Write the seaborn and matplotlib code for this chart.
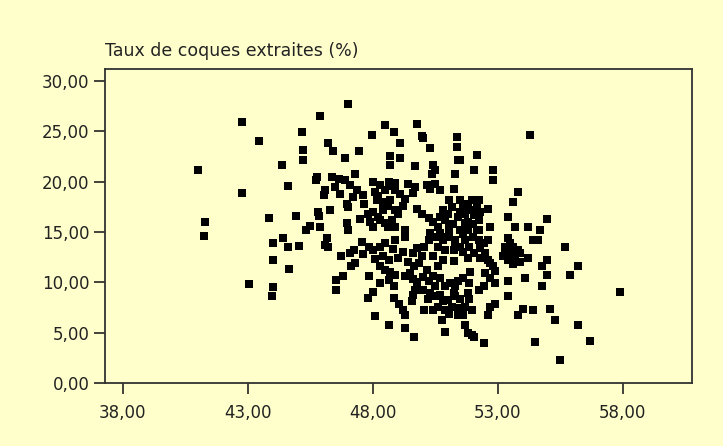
import pandas as pd
import matplotlib.pyplot as plt
import seaborn as sns
from matplotlib.ticker import FuncFormatter

# Values (x axis unnamed, y = taux de coques extraites)
x_vals = [
    41.0, 41.3, 41.25, 42.76, 42.76, 43.44, 43.04, 43.83, 44.0, 44.0,
    44.0, 43.96, 44.37, 44.6, 44.42, 44.6, 44.66, 44.92, 45.03, 45.18,
    45.2, 45.21, 45.34, 45.75, 45.73, 45.84, 45.9, 45.9, 46.08, 46.04,
    46.2, 46.4, 46.17, 46.2, 46.08, 46.36, 46.63, 46.87, 46.87, 47.02,
    47.1, 47.28, 47.37, 47.46, 46.95, 46.95, 47.0, 46.73, 47.1, 47.24,
    46.54, 46.54, 46.8, 47.13, 47.28, 47.56, 47.65, 47.83, 47.83, 47.98,
    48.0, 48.1, 48.16, 47.8, 47.9, 48.0, 48.2, 48.4, 48.3, 48.5,
    48.5, 48.86, 48.7, 48.7, 49.1, 49.1, 48.66, 48.9, 48.7, 48.9,
    49.1, 49.3, 48.9, 48.75, 48.5, 48.9, 49.3, 48.0, 48.3, 48.5,
    48.9, 49.3, 48.4, 48.66, 48.3, 48.5, 48.3, 48.66, 48.85, 48.9,
    48.0, 47.8, 48.07, 48.66, 48.85, 49.03, 49.2, 49.3, 49.3, 49.65,
    49.55, 49.6, 49.7, 49.77, 49.5, 49.3, 49.65, 49.86, 49.6, 49.77,
    50.05, 49.96, 49.7, 49.77, 49.96, 50.0, 50.27, 50.4, 50.5, 50.36,
    49.7, 50.15, 50.3, 50.5, 49.77, 49.96, 50.23, 50.4, 50.7, 50.6,
    50.3, 50.5, 50.23, 50.7, 50.8, 50.6, 50.4, 50.8, 50.6, 50.15,
    50.4, 50.23, 50.0, 50.3, 50.5, 50.2, 50.05, 50.4, 50.6, 50.8,
    50.9, 50.76, 50.9, 51.06, 51.15, 51.25, 51.3, 51.4, 51.3, 51.5,
    51.4, 51.25, 51.25, 51.3, 51.06, 51.06, 50.9, 51.0, 51.15, 51.06,
    50.8, 50.7, 51.25, 51.3, 51.4, 51.37, 51.37, 51.5, 51.6, 51.7,
    51.8, 51.96, 51.86, 52.05, 52.15, 52.25, 52.25, 51.7, 51.5, 51.8,
    51.7, 51.5, 51.86, 52.05, 51.8, 52.15, 52.25, 52.45, 52.6, 52.3,
    52.5, 52.3, 52.6, 52.7, 52.8, 52.5, 52.9, 52.7, 52.9, 52.45,
    51.86, 51.8, 51.86, 51.7, 51.96, 51.6, 51.7, 51.8, 51.96, 52.05,
    52.45, 52.6, 52.7, 52.9, 52.25, 52.8, 52.8, 52.15, 52.05, 51.5,
    52.6, 52.7, 52.25, 53.4, 53.6, 53.8, 53.7, 53.4, 53.3, 53.6,
    53.8, 53.5, 53.7, 53.4, 53.9, 53.2, 54.2, 54.2, 54.27, 54.1,
    53.4, 53.4, 53.8, 54.0, 54.4, 54.5, 54.4, 54.6, 54.7, 54.95,
    54.75, 54.95, 54.95, 54.75, 55.1, 55.3, 55.5, 55.7, 55.9, 56.2,
    56.2, 56.7, 57.9,
    48.2, 48.4, 48.6, 48.0, 48.3, 48.6, 49.0, 49.2, 48.8, 49.4,
    49.6, 51.0, 51.2, 51.4, 51.6, 51.8, 52.0, 52.0, 51.3, 50.9,
    51.6, 52.3, 51.5, 50.0, 50.7, 50.9, 51.1, 51.6, 51.9, 50.5,
    51.0, 50.7, 51.4, 49.6, 47.6, 48.1, 48.7, 49.0, 49.2, 49.4,
    48.8, 53.3, 53.5, 53.9, 53.6, 46.5, 46.7, 47.0, 47.2, 47.6,
    46.3, 45.8, 45.5, 47.5,
]

taux_coques = [
    21.1, 16.0, 14.6, 25.9, 18.9, 24.0, 9.8, 16.35, 13.9, 12.2,
    9.5, 8.6, 21.6, 19.6, 14.4, 13.5, 11.3, 16.6, 13.6, 24.9,
    23.1, 22.1, 15.2, 20.5, 20.2, 16.6, 26.5, 15.5, 19.2, 18.7,
    23.8, 23.0, 14.4, 13.5, 13.7, 20.5, 20.3, 20.2, 22.3, 27.7,
    19.7, 20.8, 19.2, 23.0, 17.8, 15.9, 15.2, 12.6, 12.9, 13.2,
    10.2, 9.25, 10.6, 11.6, 11.9, 14.0, 17.8, 13.5, 10.6, 24.6,
    20.0, 19.0, 18.2, 16.8, 16.0, 15.5, 16.5, 17.2, 19.7, 19.2,
    25.6, 24.9, 22.5, 21.6, 23.8, 22.3, 20.0, 19.9, 18.2, 19.2,
    18.8, 18.3, 17.2, 16.2, 15.9, 15.5, 15.2, 13.2, 13.5, 13.9,
    14.2, 14.5, 12.6, 12.2, 11.6, 11.2, 9.9, 10.2, 9.6, 10.7,
    9.0, 8.4, 6.7, 5.8, 8.4, 7.9, 7.3, 6.8, 5.5, 4.6,
    8.1, 8.75, 9.25, 10.0, 10.9, 10.6, 11.6, 11.9, 12.9, 13.4,
    13.5, 12.6, 21.5, 25.7, 24.5, 24.3, 23.3, 21.6, 21.1, 20.8,
    19.5, 19.7, 19.3, 19.8, 17.3, 16.8, 16.4, 16.0, 16.5, 15.5,
    14.9, 14.5, 14.2, 14.9, 14.2, 13.5, 12.6, 12.2, 11.6, 11.2,
    10.6, 10.1, 9.25, 8.9, 8.6, 8.3, 7.3, 7.3, 7.6, 8.1,
    7.3, 6.3, 5.1, 6.9, 7.6, 8.9, 9.6, 10.1, 8.6, 8.3,
    6.8, 13.2, 12.1, 14.2, 14.9, 15.5, 16.2, 16.8, 17.5, 18.2,
    17.2, 19.2, 19.3, 20.8, 22.1, 24.4, 23.4, 18.2, 17.5, 16.8,
    17.8, 18.2, 17.2, 16.7, 17.5, 18.2, 16.2, 15.9, 15.2, 15.2,
    14.2, 13.5, 13.5, 12.9, 12.4, 15.2, 14.2, 13.9, 14.2, 13.4,
    12.9, 12.4, 12.2, 11.9, 11.6, 10.9, 11.1, 10.4, 9.9, 9.6,
    9.9, 8.9, 8.3, 7.6, 7.3, 6.8, 5.8, 5.0, 4.8, 4.6,
    4.0, 6.8, 7.6, 7.9, 9.25, 20.2, 21.1, 22.6, 21.1, 22.1,
    17.3, 15.5, 15.2, 16.5, 18.0, 19.0, 15.5, 14.4, 13.5, 13.5,
    13.2, 12.9, 12.6, 12.2, 12.9, 12.6, 12.4, 15.5, 24.6, 10.4,
    10.1, 8.6, 6.8, 7.4, 7.3, 4.1, 14.2, 14.2, 15.2, 16.3,
    11.6, 12.2, 10.7, 9.6, 7.4, 6.3, 2.3, 13.5, 10.7, 11.6,
    5.8, 4.2, 9.0,
    18.6, 18.0, 17.6, 17.0, 16.2, 15.5, 16.8, 17.6, 19.6, 19.8,
    18.9, 14.5, 15.8, 16.5, 14.8, 16.0, 15.8, 14.5, 13.8, 13.2,
    13.0, 17.0, 17.0, 10.5, 10.4, 9.6, 9.9, 10.4, 11.0, 9.6,
    8.2, 8.7, 7.5, 10.3, 12.8, 12.3, 11.0, 12.4, 13.0, 12.0,
    13.3, 12.9, 13.9, 12.0, 11.8, 19.5, 18.8, 17.5, 18.5, 18.7,
    17.2, 17.0, 15.6, 16.3,
]

x_ticks = [38, 43, 48, 53, 58]
y_ticks = [0, 5, 10, 15, 20, 25, 30]

df = pd.DataFrame({"x": x_vals, "taux": taux_coques})

bg = "#FFFFCC"
plt.rcParams["font.family"] = "DejaVu Sans"

fig = plt.figure(figsize=(7.23, 4.46), dpi=100, facecolor=bg)
ax = fig.add_axes([0.145, 0.141, 0.812, 0.704])
ax.set_facecolor(bg)

sns.scatterplot(data=df, x="x", y="taux", marker="s", s=26, color="black",
                linewidth=0, ax=ax)

ax.set_xlim(37.28, 60.76)
ax.set_ylim(0, 31.16)
ax.set_xticks(x_ticks)
ax.set_yticks(y_ticks)
comma = FuncFormatter(lambda v, p: f"{v:.2f}".replace(".", ","))
ax.xaxis.set_major_formatter(comma)
ax.yaxis.set_major_formatter(comma)
ax.tick_params(axis="both", direction="out", length=8, width=1.2,
               color="#222222", labelsize=12, labelcolor="#222222")
ax.tick_params(axis="x", pad=7)
ax.tick_params(axis="y", pad=3)
ax.set_xlabel("")
ax.set_ylabel("")
for sp in ax.spines.values():
    sp.set_color("#333333")
    sp.set_linewidth(1.3)

ax.text(0.0, 1.03, "Taux de coques extraites (%)", transform=ax.transAxes,
        ha="left", va="bottom", fontsize=12.5, color="#222222")

fig.savefig("out.png", dpi=100, facecolor=bg)
